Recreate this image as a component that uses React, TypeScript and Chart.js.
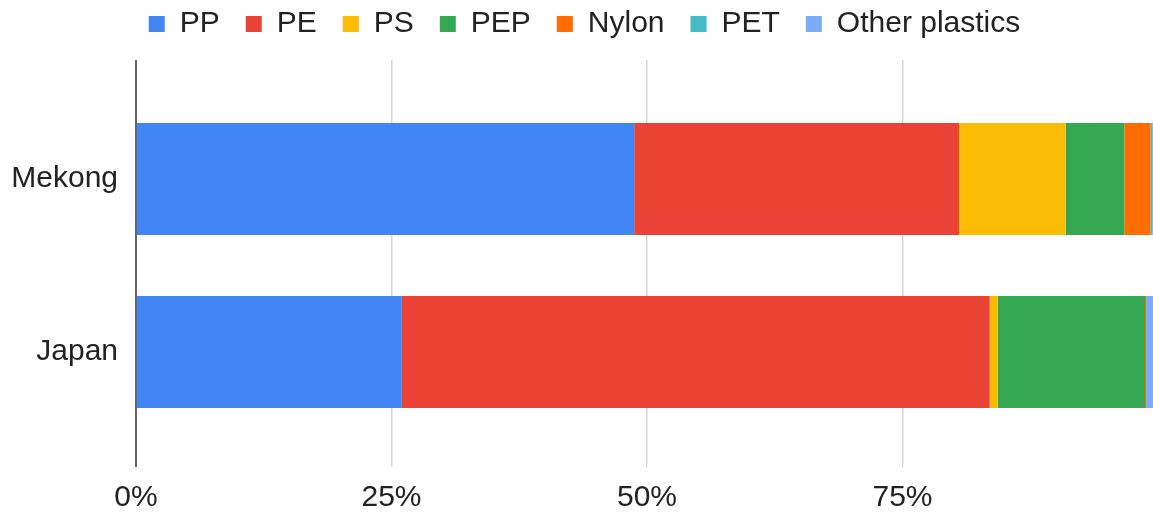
import { useEffect, useRef } from 'react';
import { Chart, registerables } from 'chart.js';

Chart.register(...registerables);

// Share of each polymer type in sampled microplastics, per region (percent)
const regions = ['Mekong', 'Japan'];
const polymers = ['PP', 'PE', 'PS', 'PEP', 'Nylon', 'PET', 'Other plastics'];
const pp = [48.75, 26.01];
const pe = [31.78, 57.52];
const ps = [10.44, 0.78];
const pep = [5.73, 14.42];
const nylon = [2.58, 0.1];
const pet = [0.2, 0];
const otherPlastics = [0.52, 1.17];
const percentTicks = [0, 25, 50, 75];

const seriesValues = [pp, pe, ps, pep, nylon, pet, otherPlastics];
const palette = ['#4285f4', '#ea4335', '#fbbc04', '#34a853', '#ff6d01', '#46bdc6', '#7baaf7'];

const FONT = "'Liberation Sans', Arial, sans-serif";
const FONT_SIZE = 30;

// Leaves extra room between the legend row and the plot area
const legendGap = {
  id: 'legendGap',
  beforeInit(chart: any) {
    const legend = chart.legend;
    if (!legend) return;
    const fit = legend.fit;
    legend.fit = function () {
      fit.call(this);
      this.height += 11;
    };
  },
};

export default function App() {
  const canvasRef = useRef<HTMLCanvasElement | null>(null);

  useEffect(() => {
    if (!canvasRef.current) return;
    const chart = new Chart(canvasRef.current, {
      type: 'bar',
      data: {
        datasets: polymers.map((name, s) => ({
          label: name,
          data: seriesValues[s].map((v, i) => ({ x: v, y: i })),
          backgroundColor: palette[s],
          borderWidth: 0,
          categoryPercentage: 1,
          barPercentage: 0.647,
        })),
      },
      options: {
        indexAxis: 'y',
        animation: false,
        responsive: true,
        maintainAspectRatio: false,
        layout: { padding: { left: 3, right: 0, top: 0, bottom: 0 } },
        plugins: {
          tooltip: { enabled: false },
          legend: {
            position: 'top',
            align: 'center',
            labels: {
              boxWidth: 16,
              boxHeight: 16,
              padding: 26,
              color: '#222',
              font: { family: FONT, size: FONT_SIZE },
            },
          },
        },
        scales: {
          x: {
            type: 'linear',
            stacked: true,
            min: 0,
            max: 100,
            afterBuildTicks: (scale: any) => {
              scale.ticks = percentTicks.map((v) => ({ value: v }));
            },
            ticks: {
              callback: (v: any) => `${v}%`,
              color: '#222',
              padding: 13,
              font: { family: FONT, size: FONT_SIZE },
              maxRotation: 0,
            },
            grid: {
              drawTicks: false,
              color: (ctx: any) => (ctx.tick && ctx.tick.value === 0 ? '#666' : '#d6d6d6'),
              lineWidth: (ctx: any) => (ctx.tick && ctx.tick.value === 0 ? 2 : 1.5),
            },
            border: { display: false },
          },
          y: {
            type: 'linear',
            stacked: true,
            reverse: true,
            offset: false,
            min: -0.688,
            max: 1.665,
            afterBuildTicks: (scale: any) => {
              scale.ticks = regions.map((_, i) => ({ value: i }));
            },
            afterFit: (scale: any) => {
              scale.width = 125;
            },
            ticks: {
              callback: (v: any) => regions[v] ?? '',
              color: '#222',
              padding: 18,
              font: { family: FONT, size: FONT_SIZE },
              autoSkip: false,
            },
            grid: { display: false, drawTicks: false },
            border: { display: false },
          },
        },
      },
      plugins: [legendGap],
    });
    return () => chart.destroy();
  }, []);

  return (
    <div
      style={{
        position: 'fixed',
        left: 0,
        top: 0,
        width: 1153,
        height: 516,
        overflow: 'hidden',
        background: '#fff',
      }}
    >
      <div style={{ position: 'absolute', left: 8, top: -17, width: 1150, height: 546 }}>
        <canvas ref={canvasRef} />
      </div>
    </div>
  );
}
